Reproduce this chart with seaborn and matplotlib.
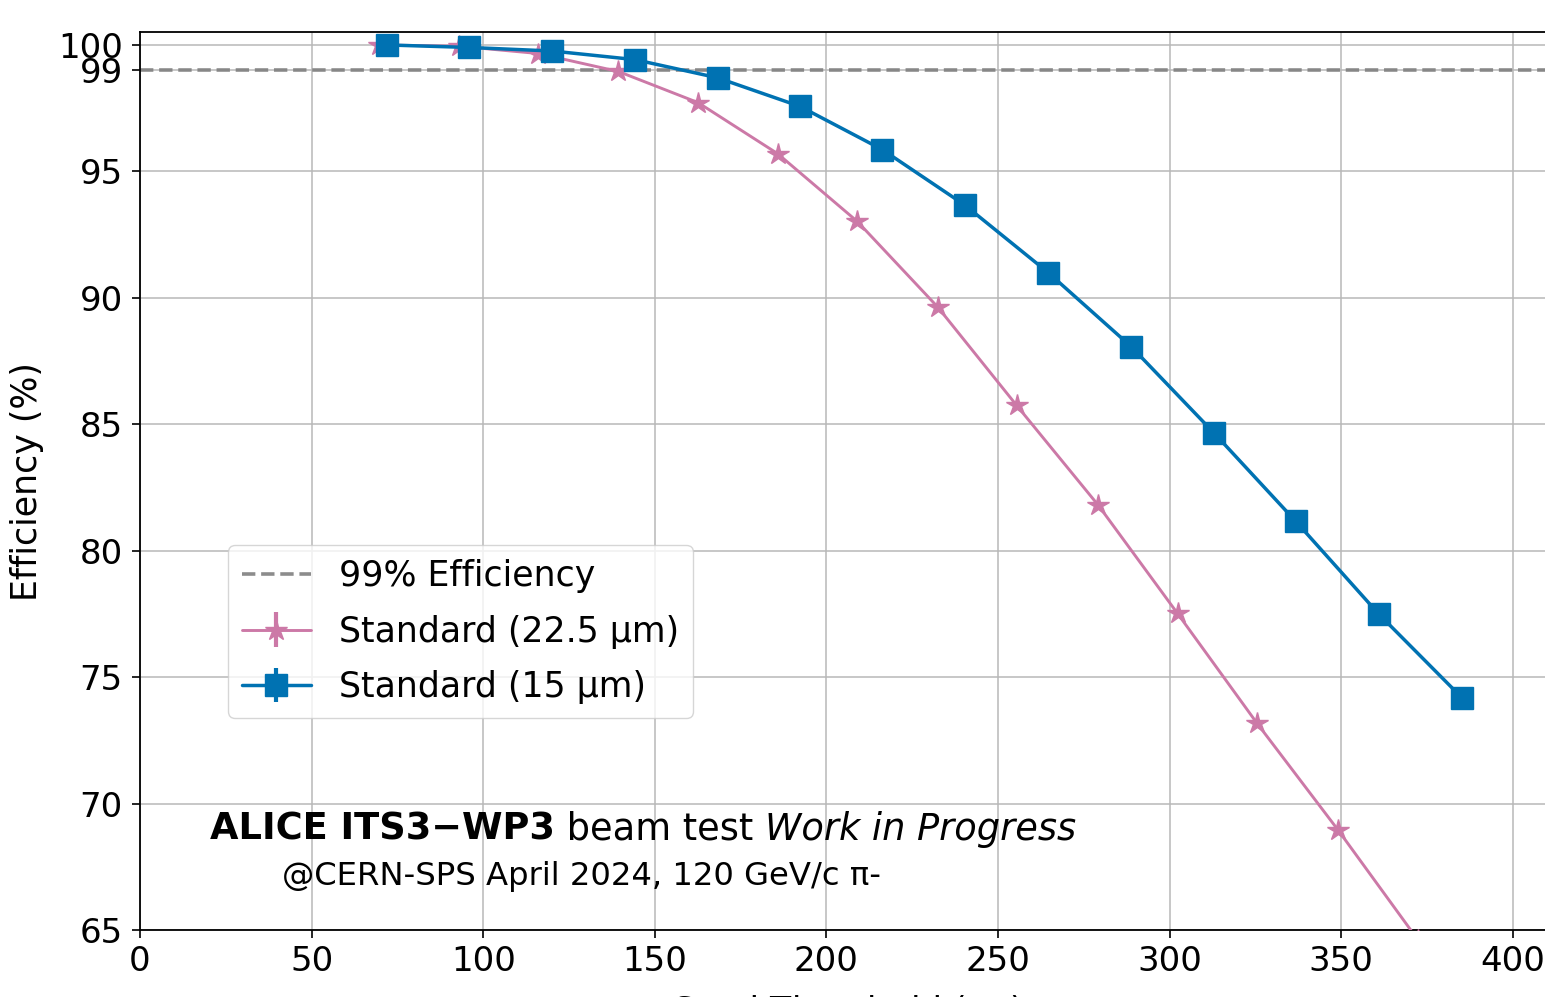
import numpy as np
import matplotlib
matplotlib.use('Agg')
import matplotlib.pyplot as plt
import seaborn as sns

# seed threshold (e-) and efficiency (%)
thr_22um = [69.7, 92.9, 116.1, 139.4, 162.6, 185.8, 209.0, 232.4, 255.4, 279.2, 302.3, 325.5, 349.1, 372.4]
eff_22um = [100.0, 99.95, 99.66, 98.95, 97.72, 95.70, 93.02, 89.64, 85.75, 81.80, 77.52, 73.17, 68.95, 64.6]

thr_15um = [71.9, 96.0, 120.1, 144.2, 168.3, 192.3, 216.3, 240.4, 264.6, 288.8, 312.9, 336.7, 360.9, 385.2]
eff_15um = [100.0, 99.9, 99.76, 99.42, 98.70, 97.57, 95.86, 93.66, 91.00, 88.07, 84.66, 81.17, 77.50, 74.18]

ref_eff = 99
xticks = [0, 50, 100, 150, 200, 250, 300, 350, 400]
yticks = [65, 70, 75, 80, 85, 90, 95, 99, 100]

pink = '#CC79A7'
blue = '#0072B2'

sns.set_style('ticks', {'axes.grid': True, 'grid.color': '#b8b8b8',
                        'axes.edgecolor': 'black', 'text.color': 'black',
                        'axes.labelcolor': 'black', 'xtick.color': 'black',
                        'ytick.color': 'black'})
plt.rcParams['font.family'] = ['DejaVu Sans']

fig = plt.figure(figsize=(15.45, 9.97), dpi=100)
ax = fig.add_axes([140/1545, 67/997, 1414/1545, 897.7/997])

ref = ax.axhline(ref_eff, color='grey', linestyle='--', linewidth=2.6,
                 alpha=0.9, label='99% Efficiency', zorder=2)

sns.lineplot(x=thr_22um, y=eff_22um, color=pink, linewidth=2.1, marker='*',
             markersize=16, markeredgecolor=pink, markeredgewidth=1,
             legend=False, ax=ax, zorder=3)
sns.lineplot(x=thr_15um, y=eff_15um, color=blue, linewidth=2.5, marker='s',
             markersize=16, markeredgecolor=blue, markeredgewidth=1,
             legend=False, ax=ax, zorder=4)

# proxies so the legend shows errorbar style handles
h22 = ax.errorbar([np.nan], [np.nan], yerr=[0.1], fmt='-*', color=pink,
                  linewidth=2.1, elinewidth=3, markersize=16,
                  label='Standard (22.5 µm)')
h15 = ax.errorbar([np.nan], [np.nan], yerr=[0.1], fmt='-s', color=blue,
                  linewidth=2.5, elinewidth=3, markersize=16,
                  label='Standard (15 µm)')

ax.set_xlim(0, 412)
ax.set_ylim(65, 100.5)
ax.set_xticks(xticks)
ax.set_yticks(yticks)
ax.grid(True, color='#b8b8b8', linewidth=1.1)
for s in ax.spines.values():
    s.set_linewidth(1.3)
ax.spines['right'].set_visible(False)
ax.tick_params(axis='both', labelsize=24.5, length=5.5, width=1.2)
ax.tick_params(axis='y', pad=7)
ax.tick_params(axis='x', pad=5)

ax.set_xlabel('Seed Threshold (e$^{-}$)', fontsize=25, labelpad=11)
ax.set_ylabel('Efficiency (%)', fontsize=25, labelpad=10)

leg = ax.legend(handles=[ref, h22, h15], loc='lower left',
                bbox_to_anchor=(0.062, 0.236), borderaxespad=0,
                fontsize=25, labelspacing=0.62, frameon=True, fancybox=True,
                edgecolor='#cccccc', framealpha=0.8)

t1 = ax.annotate('ALICE ITS3\u2212WP3', xy=(20.4, 68.56), xycoords='data',
                 fontsize=26.5, fontweight='bold', va='baseline')
t2 = ax.annotate(' beam test ', xycoords=t1, xy=(1, 0), va='bottom',
                 fontsize=26.5)
ax.annotate('Work in Progress', xycoords=t2, xy=(1, 0), va='bottom',
            fontsize=26.5, style='italic')
ax.text(41.4, 66.78, '@CERN-SPS April 2024, 120 GeV/c \u03c0-',
        fontsize=23.2, va='baseline')

fig.savefig('out.png', dpi=100)
